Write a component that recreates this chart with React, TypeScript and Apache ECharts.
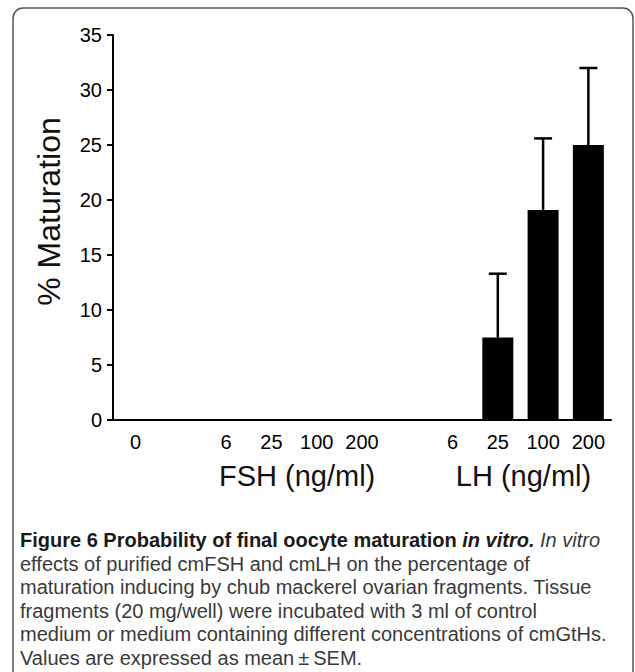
import React, { useEffect, useRef } from "react";
import * as echarts from "echarts";

const categories = ["0", "", "6", "25", "100", "200", "", "6", "25", "100", "200"];
const means = [0, null, 0, 0, 0, 0, null, 0, 7.5, 19.1, 25.0];
const sems = [0, null, 0, 0, 0, 0, null, 0, 5.8, 6.5, 7.0];
const yTicks = { min: 0, max: 35, interval: 5 };
const groupLabels = [
  { text: "FSH (ng/ml)", from: 2, to: 5 },
  { text: "LH (ng/ml)", from: 7, to: 10 },
];
const yTitle = "% Maturation";
const captionLines = [
  "{b|Figure 6 Probability of final oocyte maturation }{bi|in vitro.}{i| In vitro}",
  "effects of purified cmFSH and cmLH on the percentage of",
  "maturation inducing by chub mackerel ovarian fragments. Tissue",
  "fragments (20 mg/well) were incubated with 3 ml of control",
  "medium or medium containing different concentrations of cmGtHs.",
  "Values are expressed as mean\u2009\u00b1\u2009SEM.",
];

const AX = "Arial, 'Liberation Sans', sans-serif";
const CAP = "'Liberation Sans', Arial, sans-serif";
const CAP_SIZE = 20;

export default function App() {
  const ref = useRef<HTMLDivElement>(null);
  useEffect(() => {
    if (!ref.current) return;
    const chart = echarts.init(ref.current, undefined, { renderer: "svg" });
    const errData = categories
      .map((_, i) => [i, means[i], sems[i]])
      .filter((d) => d[2] != null && (d[2] as number) > 0);
    chart.setOption({
      animation: false,
      backgroundColor: "#ffffff",
      grid: { left: 113, top: 35, width: 498, height: 385, containLabel: false },
      xAxis: {
        type: "category",
        data: categories,
        axisLine: { lineStyle: { color: "#000", width: 2 } },
        axisTick: { alignWithLabel: true, interval: 0, length: 8, lineStyle: { color: "#000", width: 2 } },
        axisLabel: { interval: 0, fontSize: 20, color: "#000", margin: 12, fontFamily: AX },
      },
      yAxis: {
        type: "value",
        min: yTicks.min,
        max: yTicks.max,
        interval: yTicks.interval,
        splitLine: { show: false },
        axisLine: { show: true, lineStyle: { color: "#000", width: 2 } },
        axisTick: { show: true, length: 6, lineStyle: { color: "#000", width: 2 } },
        axisLabel: { fontSize: 20, color: "#000", margin: 11, fontFamily: AX },
      },
      series: [
        {
          type: "bar",
          data: means,
          barWidth: 31,
          itemStyle: { color: "#000" },
        },
        {
          type: "custom",
          data: errData,
          encode: { x: 0, y: 1 },
          renderItem: (params: any, api: any) => {
            const i = api.value(0);
            const m = api.value(1);
            const e = api.value(2);
            const p0 = api.coord([i, m]);
            const p1 = api.coord([i, m + e]);
            const half = 9;
            const st = { stroke: "#000", lineWidth: 2.5 };
            return {
              type: "group",
              children: [
                { type: "line", shape: { x1: p0[0], y1: p0[1], x2: p1[0], y2: p1[1] }, style: st },
                { type: "line", shape: { x1: p1[0] - half, y1: p1[1], x2: p1[0] + half, y2: p1[1] }, style: st },
              ],
            };
          },
        },
      ],
    });

    const baseY = chart.convertToPixel({ yAxisIndex: 0 }, 0) as number;
    const topY = chart.convertToPixel({ yAxisIndex: 0 }, yTicks.max) as number;
    const graphics: any[] = [
      {
        type: "rect",
        shape: { x: 13, y: 8, width: 620, height: 690, r: 10 },
        style: { fill: "none", stroke: "#555", lineWidth: 1.5 },
        silent: true,
      },
      {
        type: "text",
        x: 49,
        y: (baseY + topY) / 2 - 16,
        rotation: Math.PI / 2,
        style: {
          text: yTitle,
          fontSize: 32,
          fontFamily: AX,
          fill: "#111",
          align: "center",
          verticalAlign: "middle",
        },
      },
    ];
    groupLabels.forEach((g) => {
      const a = chart.convertToPixel({ xAxisIndex: 0 }, g.from) as number;
      const b = chart.convertToPixel({ xAxisIndex: 0 }, g.to) as number;
      graphics.push({
        type: "text",
        x: (a + b) / 2 + 3,
        y: baseY + 56,
        style: {
          text: g.text,
          fontSize: 29,
          fontFamily: AX,
          fill: "#111",
          align: "center",
          verticalAlign: "middle",
        },
      });
    });
    captionLines.forEach((line, k) => {
      graphics.push({
        type: "text",
        x: 20,
        y: 540 + k * 23.6,
        style: {
          text: line,
          fontSize: CAP_SIZE,
          fontFamily: CAP,
          fill: "#3a3a3a",
          align: "left",
          verticalAlign: "middle",
          rich: {
            b: { fontSize: CAP_SIZE, fontFamily: CAP, fontWeight: "bold", fill: "#1a1a1a" },
            bi: { fontSize: CAP_SIZE, fontFamily: CAP, fontWeight: "bold", fontStyle: "italic", fill: "#1a1a1a" },
            i: { fontSize: CAP_SIZE, fontFamily: CAP, fontStyle: "italic", fill: "#3a3a3a" },
          },
        },
      });
    });
    chart.setOption({ graphic: graphics });
    return () => chart.dispose();
  }, []);
  return (
    <div
      ref={ref}
      style={{ position: "fixed", left: 0, top: 0, width: 635, height: 672, background: "#fff" }}
    />
  );
}
